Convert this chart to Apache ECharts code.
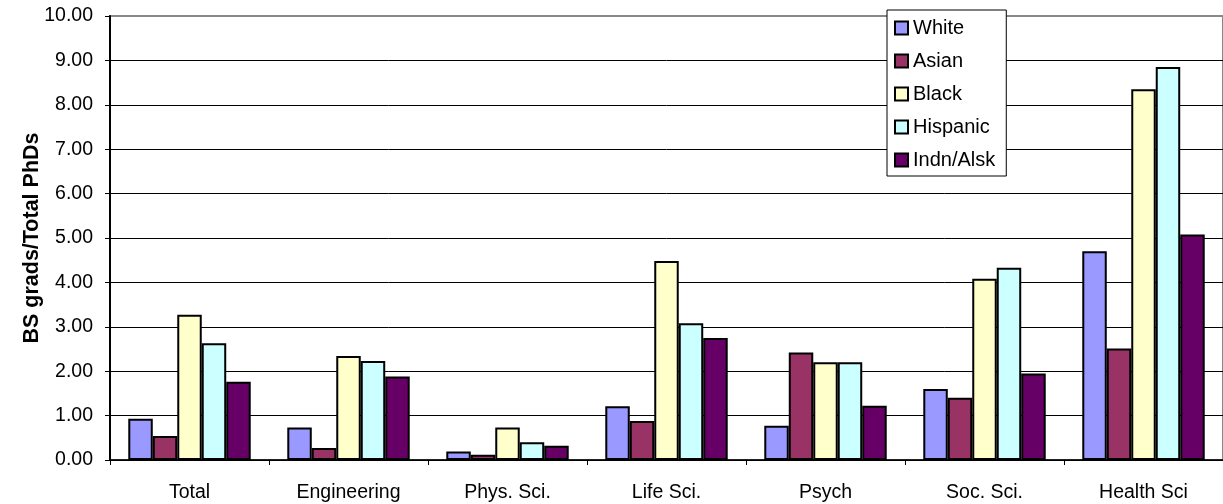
<!DOCTYPE html>
<html>
<head>
<meta charset="utf-8">
<script src="https://cdn.jsdelivr.net/npm/echarts@6/dist/echarts.min.js"></script>
<style>
  html, body { margin: 0; padding: 0; background: #fff; }
  #chart { width: 1223px; height: 504px; }
</style>
</head>
<body>
<div id="chart"></div>
<script>
// Ratio of BS graduates to total PhDs, by field and group
const categories = ['Total', 'Engineering', 'Phys. Sci.', 'Life Sci.', 'Psych', 'Soc. Sci.', 'Health Sci'];
const seriesNames = ['White', 'Asian', 'Black', 'Hispanic', 'Indn/Alsk'];
const white    = [0.93, 0.73, 0.19, 1.21, 0.77, 1.60, 4.70];
const asian    = [0.54, 0.27, 0.12, 0.88, 2.42, 1.40, 2.51];
const black    = [3.27, 2.34, 0.73, 4.48, 2.20, 4.08, 8.35];
const hispanic = [2.63, 2.23, 0.40, 3.08, 2.20, 4.33, 8.85];
const indnAlsk = [1.76, 1.88, 0.32, 2.75, 1.22, 1.95, 5.08];
const yTicks = [0, 1, 2, 3, 4, 5, 6, 7, 8, 9, 10];

const values = [white, asian, black, hispanic, indnAlsk];
const colors = ['#9999FF', '#993366', '#FFFFCC', '#CCFFFF', '#660066'];
const FONT = '"Liberation Sans", Arial, sans-serif';

const chart = echarts.init(document.getElementById('chart'), null, { renderer: 'canvas' });

// grid lines: black, the top one grey like the plot frame
const splitColors = yTicks.map((t, i) => (i === yTicks.length - 1 ? '#888888' : '#000000'));

chart.setOption({
  animation: false,
  backgroundColor: '#ffffff',
  textStyle: { fontFamily: FONT, color: '#000' },
  grid: {
    left: 110, top: 16, width: 1118, height: 444,
    show: true, borderColor: '#888888', borderWidth: 2, backgroundColor: 'transparent'
  },
  legend: {
    orient: 'vertical',
    left: 887, top: 10,
    padding: [8, 11, 6, 7],
    backgroundColor: '#ffffff',
    borderColor: '#000000',
    borderWidth: 1,
    itemWidth: 13, itemHeight: 13,
    itemGap: 13,
    icon: 'rect',
    textStyle: { fontFamily: FONT, fontSize: 20, lineHeight: 20, color: '#000' },
    data: seriesNames
  },
  xAxis: {
    type: 'category',
    data: categories,
    axisLine: { lineStyle: { color: '#000', width: 1.5 } },
    axisTick: { show: true, length: 5, lineStyle: { color: '#000', width: 1 } },
    axisLabel: { fontFamily: FONT, fontSize: 19.5, color: '#000', margin: 23, interval: 0 },
    splitLine: { show: false }
  },
  yAxis: {
    type: 'value',
    min: 0, max: 10, interval: 1,
    name: 'BS grads/Total PhDs',
    nameLocation: 'middle',
    nameGap: 67,
    nameMoveOverlap: false,
    nameTextStyle: { fontFamily: FONT, fontSize: 21.5, fontWeight: 'bold', color: '#000' },
    axisLine: { show: true, lineStyle: { color: '#000', width: 2 } },
    axisTick: { show: true, length: 5, lineStyle: { color: '#000', width: 1 } },
    axisLabel: {
      fontFamily: FONT, fontSize: 19.5, color: '#000', margin: 17,
      formatter: v => v.toFixed(2)
    },
    splitLine: { show: true, lineStyle: { color: splitColors, width: 1 } }
  },
  series: seriesNames.map((name, i) => ({
    name,
    type: 'bar',
    data: values[i],
    barGap: '0%',
    barCategoryGap: '23%',
    itemStyle: { color: colors[i], borderColor: '#000', borderWidth: 2 }
  }))
});
</script>
</body>
</html>
